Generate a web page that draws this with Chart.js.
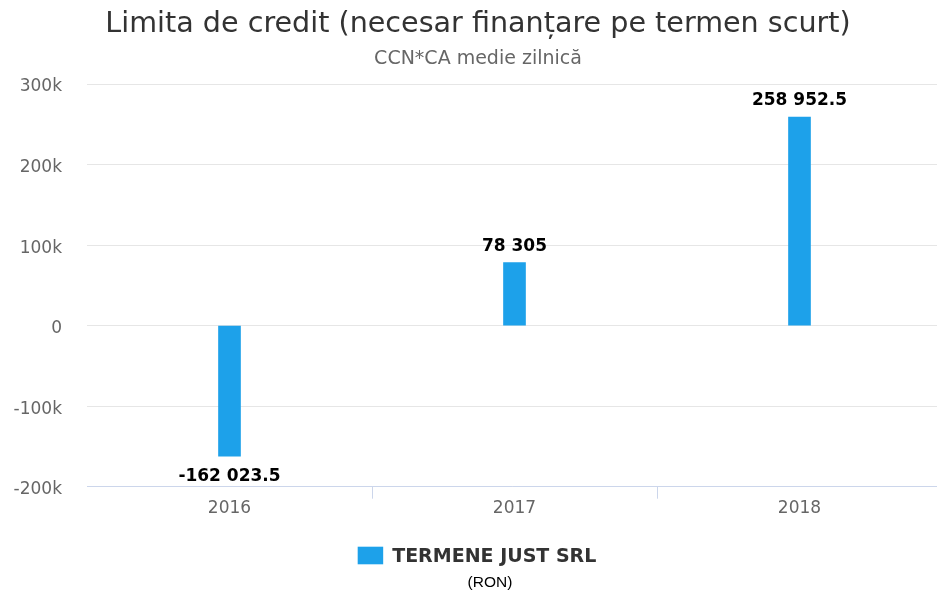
<!DOCTYPE html>
<html>
<head>
<meta charset="utf-8">
<script src="https://cdn.jsdelivr.net/npm/chart.js@4/dist/chart.umd.min.js"></script>
<style>
html,body{margin:0;padding:0;background:#fff;}
#wrap{width:937px;height:596px;position:relative;}
</style>
</head>
<body>
<div id="wrap"><canvas id="c" width="937" height="596"></canvas></div>
<script>
const categories = ['2016', '2017', '2018'];
const seriesName = 'TERMENE JUST SRL';
const values = [-162023.5, 78305, 258952.5];
const yTicks = [-200000, -100000, 0, 100000, 200000, 300000];
const titleText = 'Limita de credit (necesar finanțare pe termen scurt)';
const subtitleText = 'CCN*CA medie zilnică';
const unitText = '(RON)';
const barColor = '#1da1ea';

function fmt(v) {
  const neg = v < 0;
  const a = Math.abs(v);
  let [ip, dp] = String(a).split('.');
  ip = ip.replace(/\B(?=(\d{3})+(?!\d))/g, ' ');
  return (neg ? '-' : '') + ip + (dp ? '.' + dp : '');
}

const extendX = {
  id: 'extendX',
  afterLayout(chart) {
    const x = chart.scales.x;
    x.right += 5;
    x.width += 5;
    x.configure();
  }
};

const labelPlugin = {
  id: 'valueLabels',
  afterDatasetsDraw(chart) {
    const ctx = chart.ctx;
    const meta = chart.getDatasetMeta(0);
    ctx.save();
    ctx.font = 'bold 17px "DejaVu Sans"';
    ctx.fillStyle = '#000';
    ctx.textAlign = 'center';
    ctx.textBaseline = 'middle';
    meta.data.forEach((el, i) => {
      const v = values[i];
      const y = v >= 0 ? el.y - 16 : el.y + 20;
      ctx.fillText(fmt(v), el.x, y);
    });
    ctx.restore();
  }
};

const textPlugin = {
  id: 'headerFooter',
  afterDraw(chart) {
    const ctx = chart.ctx;
    const cx = 478;
    ctx.save();
    ctx.textAlign = 'center';
    ctx.textBaseline = 'alphabetic';
    ctx.font = '28.6px "DejaVu Sans"';
    ctx.fillStyle = '#333';
    ctx.fillText(titleText, cx, 31.5);
    ctx.font = '19px "DejaVu Sans"';
    ctx.fillStyle = '#666';
    ctx.fillText(subtitleText, cx, 63.5);
    const ds = chart.data.datasets[0];
    ctx.font = 'bold 19px "DejaVu Sans"';
    const tw = ctx.measureText(ds.label).width;
    const boxW = 25.5, boxH = 17.6, gap = 9;
    const total = boxW + gap + tw;
    const lx = 477 - total / 2;
    ctx.fillStyle = ds.backgroundColor;
    ctx.fillRect(lx, 546.7, boxW, boxH);
    ctx.fillStyle = '#333';
    ctx.textAlign = 'left';
    ctx.fillText(ds.label, lx + boxW + gap, 562.3);
    ctx.textAlign = 'center';
    ctx.textBaseline = 'middle';
    ctx.font = '15.5px "Liberation Sans"';
    ctx.fillStyle = '#000';
    ctx.fillText(unitText, 490, 583);
    ctx.restore();
  }
};

new Chart(document.getElementById('c'), {
  type: 'bar',
  data: {
    labels: categories,
    datasets: [{
      label: seriesName,
      data: values,
      backgroundColor: barColor,
      borderWidth: 0,
      barThickness: 22
    }]
  },
  options: {
    responsive: false,
    animation: false,
    layout: { padding: { left: 0, right: 0, top: 84, bottom: 79.3 } },
    plugins: {
      title: { display: false },
      subtitle: { display: false },
      legend: { display: false },
      tooltip: { enabled: false }
    },
    scales: {
      x: {
        offset: true,
        grid: {
          offset: true,
          drawOnChartArea: false,
          drawTicks: true,
          tickLength: 12,
          color: (c) => c.index === 0 ? 'rgba(0,0,0,0)' : '#ccd6eb'
        },
        border: { display: true, color: '#ccd6eb', width: 1 },
        ticks: {
          color: '#666',
          font: { family: '"DejaVu Sans"', size: 17 },
          padding: 0
        },
        afterFit(scale) { scale.height = 30; }
      },
      y: {
        min: -200000,
        max: 300000,
        afterBuildTicks(scale) { scale.ticks = yTicks.map(v => ({ value: v })); },
        afterFit(scale) { scale.width = 87; },
        grid: { color: '#e6e6e6', drawTicks: false },
        border: { display: false },
        ticks: {
          color: '#666',
          font: { family: '"DejaVu Sans"', size: 17 },
          padding: 25,
          labelOffset: 3,
          callback: (v) => v === 0 ? '0' : (v / 1000) + 'k'
        }
      }
    }
  },
  plugins: [extendX, labelPlugin, textPlugin]
});
</script>
</body>
</html>
